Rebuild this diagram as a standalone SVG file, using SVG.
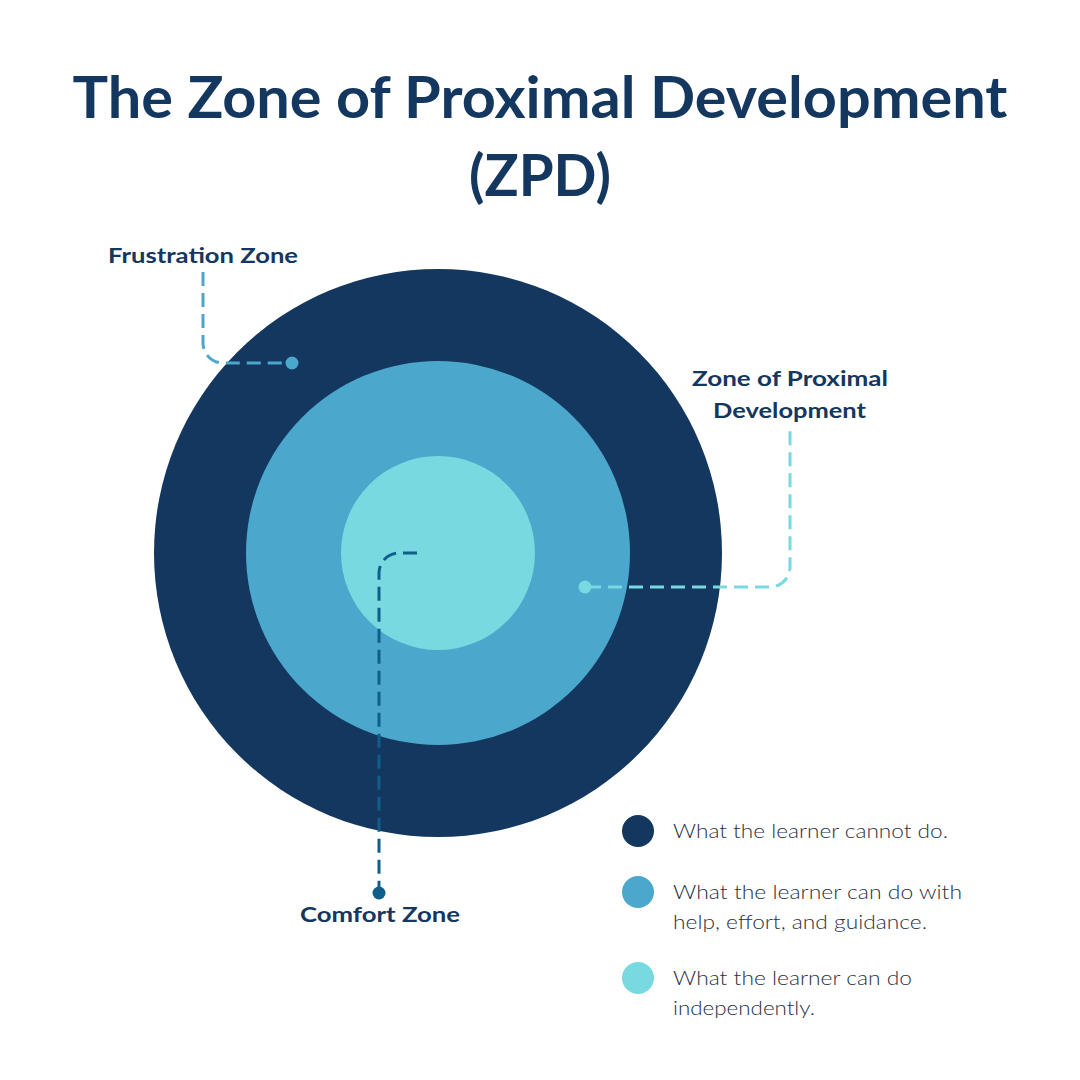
<svg xmlns="http://www.w3.org/2000/svg" width="1080" height="1080" viewBox="0 0 1080 1080">
<style>
.title{font-family:Lato,"Liberation Sans",sans-serif;font-weight:700;font-size:58px;fill:#13375E;text-anchor:middle}
.lbl{font-family:Lato,"Liberation Sans",sans-serif;font-weight:700;font-size:21px;fill:#13375E}
.leg{font-family:Lato,"Liberation Sans",sans-serif;font-weight:300;font-size:19.5px;fill:#2A3140}
.dash{fill:none;stroke-width:3;stroke-dasharray:14 7}
</style>
<rect width="1080" height="1080" fill="#FFFFFF"/>
<g id="title">
<text class="title" x="540" y="118" textLength="935" lengthAdjust="spacingAndGlyphs">The Zone of Proximal Development</text>
<text class="title" x="540" y="196" textLength="142" lengthAdjust="spacingAndGlyphs">(ZPD)</text>
</g>
<g id="frustration-zone"><circle cx="438" cy="553" r="284" fill="#13375E"/></g>
<g id="zpd"><circle cx="438" cy="553" r="192" fill="#4BA7CB"/></g>
<g id="comfort-zone"><circle cx="438" cy="553" r="97" fill="#79D9E0"/></g>
<g id="connectors">
<path class="dash" stroke="#4BA7CB" d="M203 272 V343 A20 20 0 0 0 223 363 H290"/>
<circle cx="292" cy="363" r="6.5" fill="#4BA7CB"/>
<path class="dash" stroke="#79D9E0" d="M587 587 H770 A20 20 0 0 0 790 567 V426"/>
<circle cx="585" cy="587" r="6.5" fill="#79D9E0"/>
<path class="dash" stroke="#0F5F8A" d="M417 553 H399 A20 20 0 0 0 379 573 V890"/>
<circle cx="379" cy="893" r="6.5" fill="#0F5F8A"/>
</g>
<g id="labels">
<text class="lbl" x="108" y="263" textLength="190" lengthAdjust="spacingAndGlyphs">Frustration Zone</text>
<text class="lbl" x="692" y="386" textLength="196" lengthAdjust="spacingAndGlyphs">Zone of Proximal</text>
<text class="lbl" x="713" y="418" textLength="153" lengthAdjust="spacingAndGlyphs">Development</text>
<text class="lbl" x="300" y="922" textLength="160" lengthAdjust="spacingAndGlyphs">Comfort Zone</text>
</g>
<g id="legend">
<circle cx="638" cy="831" r="16" fill="#13375E"/>
<text class="leg" x="673" y="838" textLength="275" lengthAdjust="spacingAndGlyphs">What the learner cannot do.</text>
<circle cx="638" cy="892" r="16" fill="#4BA7CB"/>
<text class="leg" x="673" y="899" textLength="289" lengthAdjust="spacingAndGlyphs">What the learner can do with</text>
<text class="leg" x="673" y="929" textLength="254" lengthAdjust="spacingAndGlyphs">help, effort, and guidance.</text>
<circle cx="638" cy="978" r="16" fill="#79D9E0"/>
<text class="leg" x="673" y="985" textLength="239" lengthAdjust="spacingAndGlyphs">What the learner can do</text>
<text class="leg" x="673" y="1015" textLength="142" lengthAdjust="spacingAndGlyphs">independently.</text>
</g>
</svg>
